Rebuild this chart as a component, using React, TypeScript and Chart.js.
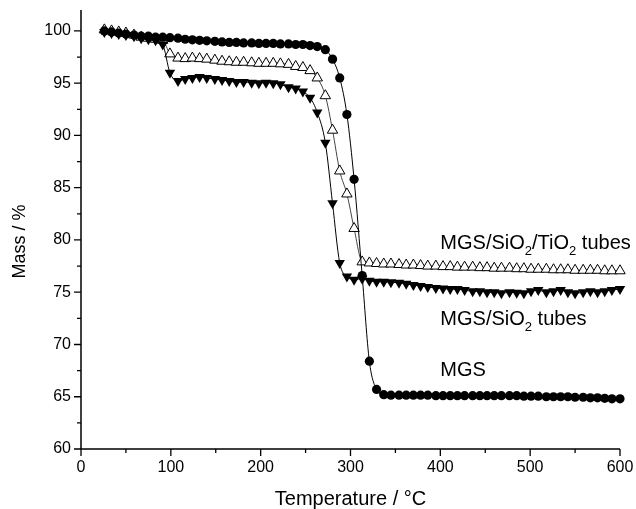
import React, { useEffect, useRef } from "react";
import { Chart, registerables } from "chart.js";
Chart.register(...registerables);

// Temperature (°C) sample points
const temperatures = [
  26, 34, 42, 50, 59, 67, 75, 83, 91, 99,
  108, 116, 124, 132, 140, 149, 157, 165, 173, 181,
  190, 198, 206, 214, 222, 231, 239, 247, 255, 263,
  272, 280, 288, 296, 304, 313, 321, 329, 337, 345,
  354, 362, 370, 378, 386, 395, 403, 411, 419, 427,
  436, 444, 452, 460, 468, 477, 485, 493, 501, 509,
  518, 526, 534, 542, 550, 559, 567, 575, 583, 591, 600,
];

// Mass (%) — MGS (filled circles)
const massMGS = [
  100.0, 99.9, 99.8, 99.7, 99.6, 99.5, 99.5, 99.4, 99.4, 99.35,
  99.3, 99.2, 99.15, 99.1, 99.05, 99.0, 98.95, 98.9, 98.9, 98.85,
  98.85, 98.8, 98.8, 98.8, 98.75, 98.75, 98.7, 98.7, 98.6, 98.5,
  98.2, 97.3, 95.5, 92.0, 85.8, 76.6, 68.4, 65.7, 65.2, 65.15,
  65.15, 65.15, 65.15, 65.15, 65.15, 65.1, 65.1, 65.1, 65.1, 65.1,
  65.1, 65.1, 65.1, 65.1, 65.1, 65.1, 65.1, 65.05, 65.05, 65.05,
  65.0, 65.0, 65.0, 65.0, 64.95, 64.95, 64.9, 64.9, 64.85, 64.8, 64.8,
];

// Mass (%) — MGS/SiO2 tubes (filled down triangles)
const massSiO2 = [
  99.9, 99.8, 99.7, 99.6, 99.5, 99.3, 99.2, 99.1, 98.7, 96.0,
  95.2, 95.4, 95.5, 95.6, 95.5, 95.4, 95.3, 95.2, 95.1, 95.1,
  95.05, 95.0, 95.05, 95.0, 94.9, 94.6, 94.5, 94.2, 93.6, 92.2,
  89.3, 83.5, 77.8, 76.5, 76.2, 76.3, 76.1, 76.0, 76.0, 75.95,
  75.9, 75.8, 75.7, 75.6, 75.5, 75.4, 75.35, 75.3, 75.3, 75.2,
  75.1, 75.1, 75.0, 75.0, 74.9, 75.0, 74.95, 74.9, 75.1, 75.2,
  75.0, 75.1, 75.2, 75.0, 74.9, 75.0, 75.1, 75.0, 75.1, 75.2, 75.3,
];

// Mass (%) — MGS/SiO2/TiO2 tubes (open up triangles)
const massTiO2 = [
  100.1, 100.0, 99.9, 99.8, 99.6, 99.4, 99.3, 99.2, 99.1, 97.8,
  97.4, 97.35, 97.4, 97.35, 97.3, 97.2, 97.1, 97.05, 97.0, 97.0,
  96.95, 96.9, 96.9, 96.9, 96.85, 96.8, 96.6, 96.5, 96.2, 95.5,
  93.8, 90.5, 86.6, 84.4, 81.1, 77.9, 77.8, 77.75, 77.7, 77.7,
  77.65, 77.6, 77.6, 77.55, 77.5, 77.5, 77.45, 77.45, 77.4, 77.4,
  77.4, 77.35, 77.35, 77.3, 77.3, 77.3, 77.25, 77.25, 77.2, 77.2,
  77.2, 77.15, 77.15, 77.15, 77.1, 77.1, 77.1, 77.1, 77.05, 77.05, 77.05,
];

const xTickValues = [0, 100, 200, 300, 400, 500, 600];
const xMinorTickValues = [50, 150, 250, 350, 450, 550];
const yTickValues = [60, 65, 70, 75, 80, 85, 90, 95, 100];
const yMinorTickValues = [62.5, 67.5, 72.5, 77.5, 82.5, 87.5, 92.5, 97.5];

const xTitle = "Temperature / °C";
const yTitle = "Mass / %";
// label parts: [text, isSubscript]
const labelTiO2: [string, boolean][] = [["MGS/SiO", false], ["2", true], ["/TiO", false], ["2", true], [" tubes", false]];
const labelSiO2: [string, boolean][] = [["MGS/SiO", false], ["2", true], [" tubes", false]];
const labelMGS: [string, boolean][] = [["MGS", false]];

const FONT = "'Liberation Sans', Arial, Helvetica, sans-serif";

const toPoints = (ys: number[]) => temperatures.map((t, i) => ({ x: t, y: ys[i] }));

const axesPlugin = {
  id: "customAxes",
  afterDraw(chart: any) {
    const { ctx, chartArea, scales } = chart;
    const xs = scales.x;
    const ys = scales.y;
    ctx.save();
    ctx.strokeStyle = "#000";
    ctx.fillStyle = "#000";
    ctx.lineWidth = 1.5;
    const left = chartArea.left;
    const bottom = chartArea.bottom;
    // axis lines
    ctx.beginPath();
    ctx.moveTo(left, chartArea.top);
    ctx.lineTo(left, bottom);
    ctx.moveTo(left, bottom);
    ctx.lineTo(xs.getPixelForValue(600), bottom);
    ctx.stroke();
    // ticks
    ctx.lineWidth = 1.3;
    ctx.beginPath();
    for (const v of yTickValues) {
      const p = ys.getPixelForValue(v);
      ctx.moveTo(left, p);
      ctx.lineTo(left - 7, p);
    }
    for (const v of yMinorTickValues) {
      const p = ys.getPixelForValue(v);
      ctx.moveTo(left, p);
      ctx.lineTo(left - 4, p);
    }
    for (const v of xTickValues) {
      const p = xs.getPixelForValue(v);
      ctx.moveTo(p, bottom);
      ctx.lineTo(p, bottom + 7);
    }
    for (const v of xMinorTickValues) {
      const p = xs.getPixelForValue(v);
      ctx.moveTo(p, bottom);
      ctx.lineTo(p, bottom + 4);
    }
    ctx.stroke();
    // tick labels
    ctx.font = `16px ${FONT}`;
    ctx.textAlign = "right";
    ctx.textBaseline = "middle";
    for (const v of yTickValues) {
      ctx.fillText(String(v), left - 10, ys.getPixelForValue(v));
    }
    ctx.textAlign = "center";
    ctx.textBaseline = "middle";
    for (const v of xTickValues) {
      ctx.fillText(String(v), xs.getPixelForValue(v), bottom + 19);
    }
    // titles
    ctx.font = `20px ${FONT}`;
    ctx.textBaseline = "middle";
    ctx.fillText(xTitle, (xs.getPixelForValue(0) + xs.getPixelForValue(600)) / 2, bottom + 50);
    ctx.save();
    ctx.font = `18px ${FONT}`;
    ctx.translate(20, (chartArea.top + bottom) / 2 + 12);
    ctx.rotate(-Math.PI / 2);
    ctx.fillText(yTitle, 0, 0);
    ctx.restore();
    // series labels
    const drawLabel = (parts: [string, boolean][], xv: number, yv: number) => {
      let px = xs.getPixelForValue(xv);
      const py = ys.getPixelForValue(yv);
      ctx.textAlign = "left";
      ctx.textBaseline = "middle";
      for (const [txt, sub] of parts) {
        ctx.font = sub ? `13px ${FONT}` : `20px ${FONT}`;
        ctx.fillText(txt, px, sub ? py + 8 : py);
        px += ctx.measureText(txt).width;
      }
    };
    drawLabel(labelTiO2, 400, 79.7);
    drawLabel(labelSiO2, 400, 72.4);
    drawLabel(labelMGS, 400, 67.5);
    ctx.restore();
  },
};

export default function App() {
  const canvasRef = useRef<HTMLCanvasElement | null>(null);
  useEffect(() => {
    document.body.style.margin = "0";
    const canvas = canvasRef.current;
    if (!canvas) return;
    const chart = new Chart(canvas, {
      type: "line",
      data: {
        datasets: [
          {
            label: "MGS",
            data: toPoints(massMGS),
            borderColor: "#000",
            borderWidth: 1,
            backgroundColor: "#000",
            pointStyle: "circle",
            pointRadius: 4.6,
            pointBorderWidth: 0,
            pointBackgroundColor: "#000",
            cubicInterpolationMode: "monotone",
            clip: false,
          },
          {
            label: "MGS/SiO2 tubes",
            data: toPoints(massSiO2),
            borderColor: "#000",
            borderWidth: 1,
            backgroundColor: "#000",
            pointStyle: "triangle",
            pointRotation: 180,
            pointRadius: 6,
            pointBorderWidth: 0,
            pointBackgroundColor: "#000",
            cubicInterpolationMode: "monotone",
            clip: false,
          },
          {
            label: "MGS/SiO2/TiO2 tubes",
            data: toPoints(massTiO2),
            borderColor: "#444",
            borderWidth: 1,
            backgroundColor: "#fff",
            pointStyle: "triangle",
            pointRadius: 6,
            pointBorderWidth: 1,
            pointBorderColor: "#000",
            pointBackgroundColor: "#fff",
            cubicInterpolationMode: "monotone",
            clip: false,
          },
        ],
      },
      options: {
        animation: false,
        responsive: true,
        maintainAspectRatio: false,
        layout: { padding: { left: 81, right: 16, top: 10, bottom: 60 } },
        plugins: { legend: { display: false }, tooltip: { enabled: false } },
        scales: {
          x: { type: "linear", min: 0, max: 600, display: false },
          y: { type: "linear", min: 60, max: 102, display: false },
        },
      },
      plugins: [axesPlugin],
    } as any);
    return () => chart.destroy();
  }, []);
  return (
    <div style={{ position: "fixed", left: 0, top: 0, width: 636, height: 509, background: "#fff" }}>
      <canvas ref={canvasRef} />
    </div>
  );
}
